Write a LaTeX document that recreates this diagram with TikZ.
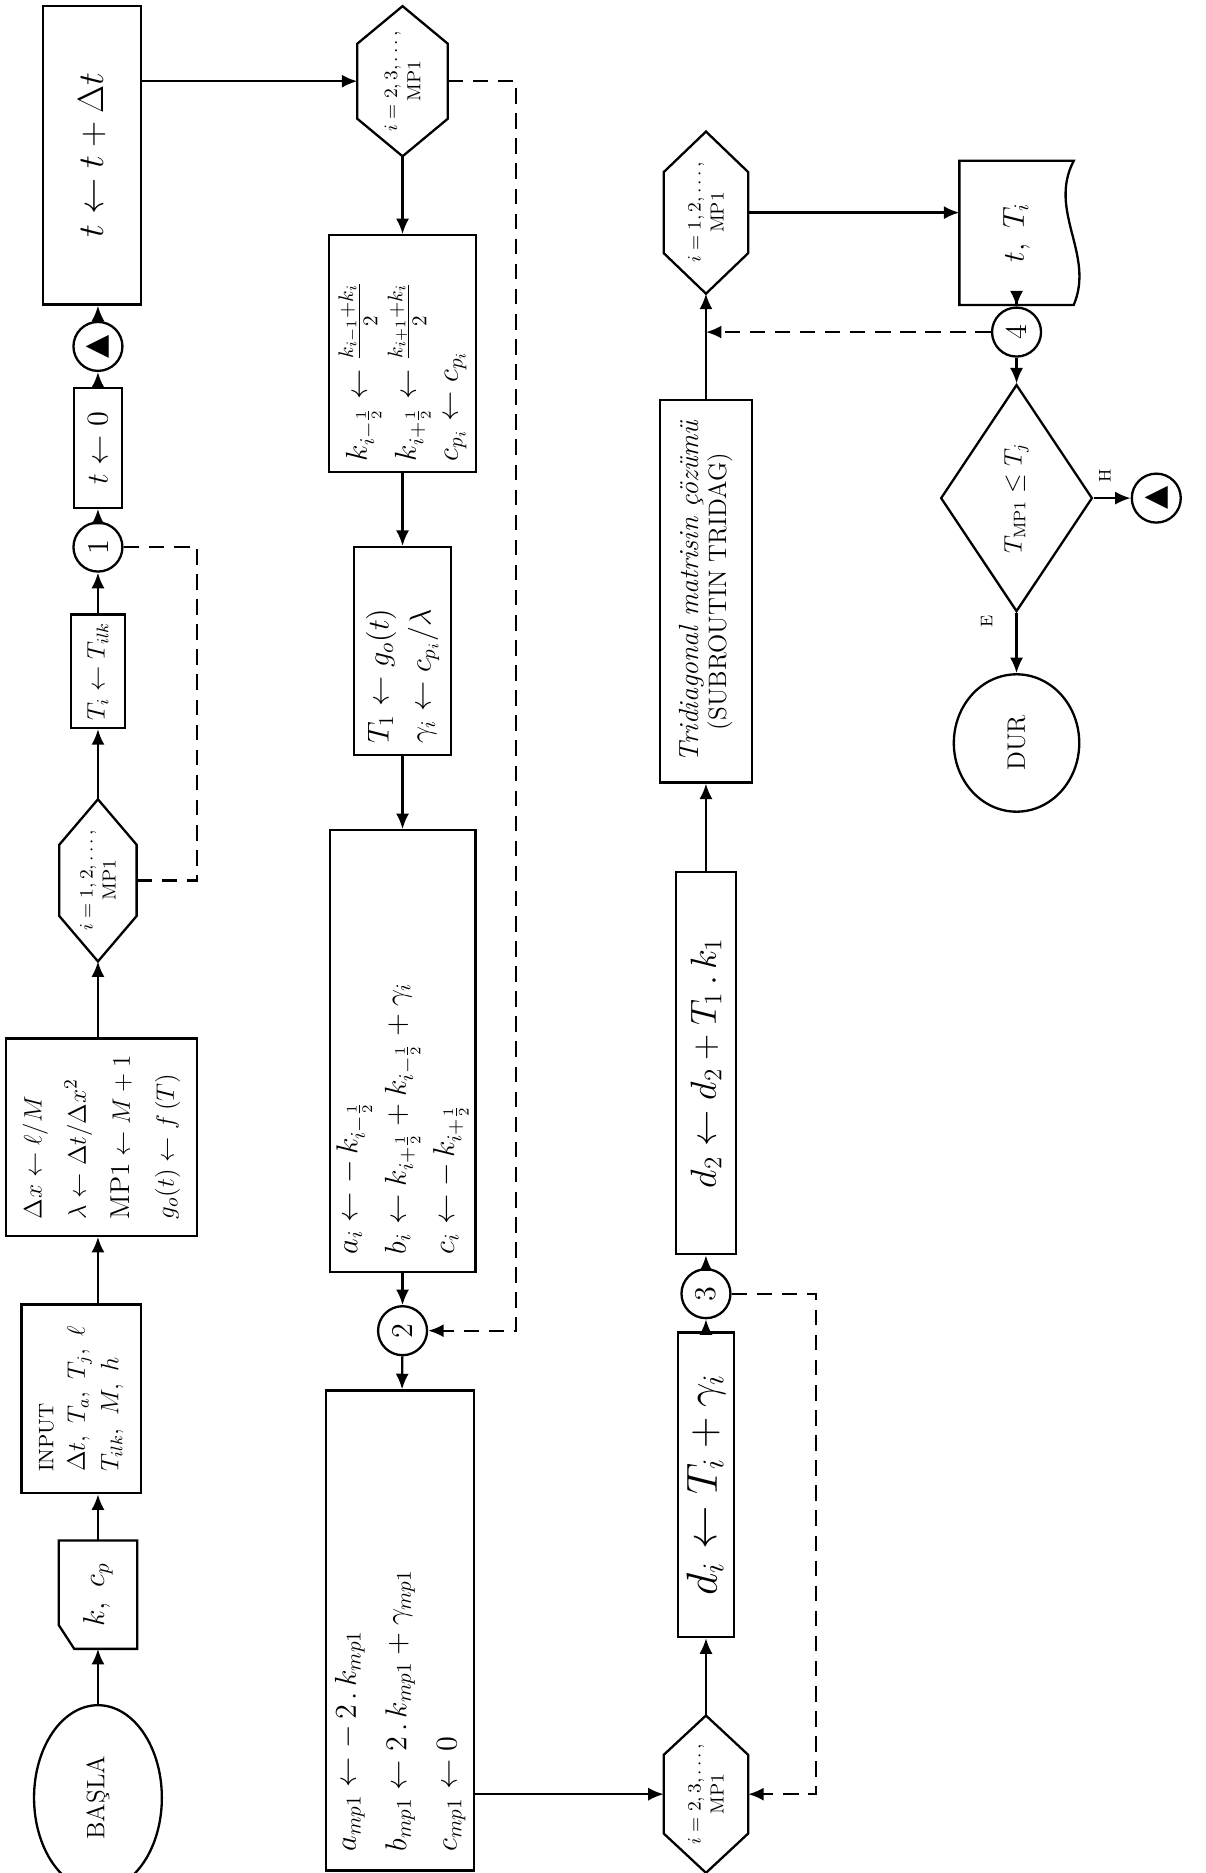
\documentclass[tikz,border=0pt]{standalone}
\usepackage{fontspec}
\newfontfamily\trifont{DejaVu Sans}
\usetikzlibrary{shapes.geometric,arrows.meta,calc}

\tikzset{
  flow/.style={-{Latex[length=2.6mm,width=2.2mm]}, line width=1.1pt},
  loopline/.style={line width=1.1pt, dash pattern=on 2.6mm off 1.6mm},
  loopflow/.style={loopline, -{Latex[length=2.6mm,width=2.2mm]}},
  box/.style={rectangle, draw, line width=1.1pt, rotate=90, inner sep=1pt, align=center},
  blank/.style={rectangle, rotate=90, inner sep=1pt, align=center},
  conn/.style={circle, draw, line width=1.1pt, rotate=90, minimum size=8.2mm, inner sep=0pt, font=\Large},
  term/.style={ellipse, draw, line width=1.1pt, rotate=90, inner sep=0pt},
  decide/.style={diamond, draw, line width=1.1pt, rotate=90, inner sep=0pt, aspect=1.5},
  lbl/.style={rotate=90, font=\footnotesize}
}

% loop hexagon round a blank node (#2 = cut of the flat sides)
\newcommand{\hexframe}[2]{%
  \draw[line width=1.1pt] (#1.east) -- ($(#1.north east)!#2!(#1.north west)$)
    -- ($(#1.north west)!#2!(#1.north east)$) -- (#1.west)
    -- ($(#1.south west)!#2!(#1.south east)$) -- ($(#1.south east)!#2!(#1.south west)$) -- cycle;}
% manual input
\newcommand{\manframe}[1]{%
  \draw[line width=1.1pt] (#1.north east) -- ($(#1.north west)+(0,-20)$)
    -- ($(#1.north west)+(13,0)$) -- (#1.south west) -- (#1.south east) -- cycle;}
% printed output
\newcommand{\docframe}[1]{%
  \draw[line width=1.1pt] (#1.north west) -- (#1.north east) -- (#1.south east)
    .. controls ($(#1.south east)!0.35!(#1.south west)+(-22,0)$) and ($(#1.south east)!0.65!(#1.south west)+(18,0)$) .. (#1.south west) -- cycle;}

\begin{document}
\begin{tikzpicture}[x=0.2mm, y=-0.2mm]
    \useasboundingbox (0,0) rectangle (1009,1568);

    % first column (upwards)
    \node[term, minimum width=31mm, minimum height=21.4mm, font=\large] (basla) at (82,1505) {BAŞLA};
    \node[blank, minimum width=18mm, minimum height=13mm, font=\Large] (kcp) at (82,1335) {$k,\ c_p$};
    \manframe{kcp}
    \node[box, minimum width=31.6mm, minimum height=20mm, align=left, font=\large] (input) at (68,1171) {{\normalsize INPUT}\\[1pt] $\Delta t,\ T_a,\ T_j,\ \ell$\\[2pt] $T_{ilk},\ M,\ h$};
    \node[box, minimum width=33mm, minimum height=32mm, align=left, font=\fontsize{13}{16}\selectfont] (calc) at (85,952) {$\Delta x \leftarrow \ell/M$\\[5pt] $\lambda \leftarrow \Delta t/\Delta x^2$\\[5pt] $\mathrm{MP1} \leftarrow M+1$\\[5pt] $g_o(t) \leftarrow f\,(T)$};
    \node[blank, minimum width=27mm, minimum height=12.8mm, font=\small] (hex1) at (82,737) {$i=1,2,\ldots,$\\ MP1};
    \hexframe{hex1}{0.28}
    \node[box, minimum width=19mm, minimum height=9mm, font=\large] (tilk) at (82,562) {$T_i \leftarrow T_{ilk}$};
    \node[conn] (con1) at (82,458) {1};
    \node[box, minimum width=20mm, minimum height=8mm, font=\Large] (t0) at (82,375) {$t \leftarrow 0$};
    \node[conn] (conA) at (82,290) {\trifont ▲};
    \node[box, minimum width=50mm, minimum height=16.4mm, font=\LARGE] (tinc) at (77,130) {$t \leftarrow t + \Delta t$};

    \draw[flow] (basla) -- (kcp);
    \draw[flow] (kcp) -- (kcp |- input.west);
    \draw[flow] (kcp |- input.east) -- (kcp |- calc.west);
    \draw[flow] (kcp |- calc.east) -- (hex1);
    \draw[flow] (hex1) -- (tilk);
    \draw[flow] (tilk) -- (con1);
    \draw[flow] (con1) -- (t0);
    \draw[flow] (t0) -- (conA);
    \draw[flow] (conA) -- (conA |- tinc.west);
    \coordinate (c1) at (165,458);
    \draw[loopline] (hex1) -| (c1) -- (con1);

    % second column (downwards)
    \node[blank, minimum width=25mm, minimum height=15mm, font=\small] (hex2) at (337,68) {$i=2,3,\ldots,$\\ MP1};
    \hexframe{hex2}{0.25}
    \node[box, minimum width=39.6mm, minimum height=24.6mm, text width=36mm, align=left, font=\Large] (kbox) at (337,296) {$k_{i-\frac12} \leftarrow \frac{k_{i-1}+k_i}{2}$\\[2pt] $k_{i+\frac12} \leftarrow \frac{k_{i+1}+k_i}{2}$\\[2pt] $c_{p_i} \leftarrow c_{p_i}$};
    \node[box, minimum width=34.8mm, minimum height=16.2mm, text width=31mm, align=left, font=\Large] (t1box) at (337,545) {$T_1 \leftarrow g_o(t)$\\[2pt] $\gamma_i \leftarrow c_{p_i}/\lambda$};
    \node[box, minimum width=74mm, minimum height=24.4mm, text width=68mm, align=left, font=\Large] (bigbox) at (337,880) {$a_i \leftarrow -\,k_{i-\frac12}$\\[5pt] $b_i \leftarrow k_{i+\frac12} + k_{i-\frac12} + \gamma_i$\\[5pt] $c_i \leftarrow -\,k_{i+\frac12}$};
    \node[conn] (con2) at (337,1114) {2};
    \node[box, minimum width=80.4mm, minimum height=24.8mm, text width=74mm, align=left, font=\Large] (ampbox) at (335,1365) {$a_{mp1} \leftarrow -\,2\,.\,k_{mp1}$\\[6pt] $b_{mp1} \leftarrow 2\,.\,k_{mp1} + \gamma_{mp1}$\\[6pt] $c_{mp1} \leftarrow 0$};

    \draw[flow] (tinc.south |- hex2) -- (hex2);
    \draw[flow] (hex2) -- (kbox);
    \draw[flow] (kbox) -- (t1box);
    \draw[flow] (t1box) -- (bigbox);
    \draw[flow] (bigbox) -- (con2);
    \draw[flow] (con2) -- (ampbox);
    \coordinate (c2) at (432,68);
    \draw[loopflow] (hex2) -- (c2) |- (con2);

    % third column (upwards)
    \node[blank, minimum width=26.2mm, minimum height=14mm, font=\small] (hex3) at (591,1502) {$i=2,3,\ldots,$\\ MP1};
    \hexframe{hex3}{0.25}
    \node[box, minimum width=51mm, minimum height=9.4mm, font=\huge] (dibox) at (591,1243) {$d_i \leftarrow T_i + \gamma_i$};
    \node[conn] (con3) at (591,1083) {3};
    \node[box, minimum width=64mm, minimum height=10mm, font=\LARGE] (d2box) at (591,890) {$d_2 \leftarrow d_2 + T_1\,.\,k_1$};
    \node[box, minimum width=64mm, minimum height=15.4mm] (tridiag) at (591,495) {{\fontsize{13.2}{15}\selectfont\itshape Tridiagonal matrisin çözümü}\\[1pt] {\large (SUBROUTIN TRIDAG)}};
    \node[blank, minimum width=27mm, minimum height=14mm, font=\small] (hex4) at (591,178) {$i=1,2,\ldots,$\\ MP1};
    \hexframe{hex4}{0.25}

    \draw[flow] (ampbox.south |- hex3) -- (hex3);
    \draw[flow] (hex3) -- (dibox);
    \draw[flow] (dibox) -- (con3);
    \draw[flow] (con3) -- (d2box);
    \draw[flow] (d2box) -- (tridiag);
    \draw[flow] (tridiag) -- (hex4);
    \coordinate (c3) at (683,1083);
    \draw[loopflow] (con3) -- (c3) |- (hex3);

    % output and test
    \node[blank, minimum width=24mm, minimum height=19mm, font=\Large] (doc) at (851,195) {$t,\ T_i$};
    \docframe{doc}
    \node[conn] (con4) at (851,278) {4};
    \node[decide, minimum width=38mm, minimum height=25.4mm, font=\large] (dia) at (851,417) {$T_{\mathrm{MP1}} \le T_j$};
    \node[conn] (conA2) at (968,417) {\trifont ▲};
    \node[term, minimum width=23mm, minimum height=21mm, font=\large] (dur) at (851,622) {DUR};
    \node[lbl] (lh) at (925,398) {H};
    \node[lbl] (le) at (826,520) {E};

    \draw[flow] (hex4) -- (hex4 -| doc.north);
    \draw[flow] (doc) -- (con4);
    \draw[loopflow] (con4) -- (con4 -| hex4);
    \draw[flow] (con4) -- (dia);
    \draw[flow] (dia) -- (conA2);
    \draw[flow] (dia) -- (dur);
\end{tikzpicture}
\end{document}
